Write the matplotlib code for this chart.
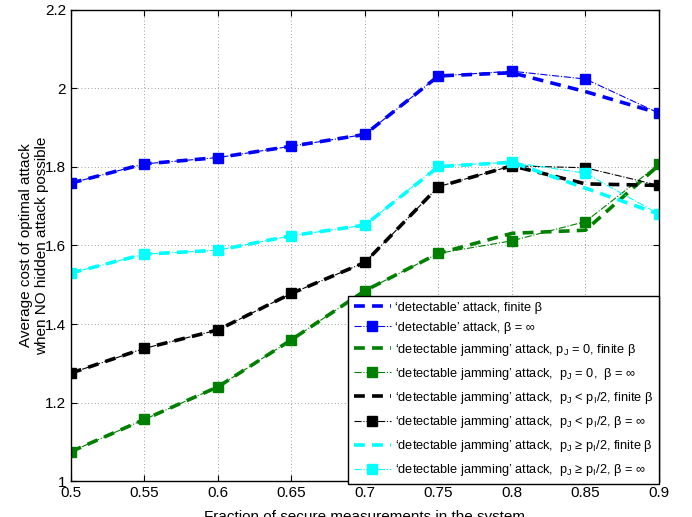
import matplotlib
matplotlib.use("Agg")
import matplotlib.pyplot as plt

plt.rcParams["font.family"] = ["Liberation Sans", "DejaVu Sans"]
plt.rcParams["mathtext.fontset"] = "custom"
plt.rcParams["mathtext.rm"] = "Liberation Sans"
plt.rcParams["mathtext.it"] = "Liberation Sans"

frac = [0.5, 0.55, 0.6, 0.65, 0.7, 0.75, 0.8, 0.85, 0.9]

det_finite = [1.759, 1.808, 1.824, 1.853, 1.883, 2.032, 2.040, 1.992, 1.937]
det_inf = [1.759, 1.808, 1.824, 1.853, 1.883, 2.032, 2.044, 2.024, 1.937]
jam0_finite = [1.075, 1.157, 1.240, 1.360, 1.485, 1.580, 1.631, 1.639, 1.805]
jam0_inf = [1.075, 1.157, 1.240, 1.360, 1.485, 1.580, 1.612, 1.661, 1.807]
jamlt_finite = [1.275, 1.338, 1.385, 1.478, 1.557, 1.750, 1.803, 1.757, 1.753]
jamlt_inf = [1.275, 1.338, 1.385, 1.478, 1.557, 1.750, 1.803, 1.798, 1.753]
jamge_finite = [1.530, 1.578, 1.588, 1.625, 1.652, 1.801, 1.812, 1.746, 1.680]
jamge_inf = [1.530, 1.578, 1.588, 1.625, 1.652, 1.803, 1.812, 1.784, 1.680]

labels = [
    "\u2018detectable\u2019 attack, finite \u03b2",
    "\u2018detectable\u2019 attack, \u03b2 = \u221e",
    "\u2018detectable jamming\u2019 attack, $\\mathrm{p_J}$ = 0, finite \u03b2",
    "\u2018detectable jamming\u2019 attack,  $\\mathrm{p_J}$ = 0,  \u03b2 = \u221e",
    "\u2018detectable jamming\u2019 attack,  $\\mathrm{p_J}$ < $\\mathrm{p_I}$/2, finite \u03b2",
    "\u2018detectable jamming\u2019 attack,  $\\mathrm{p_J}$ < $\\mathrm{p_I}$/2, \u03b2 = \u221e",
    "\u2018detectable jamming\u2019 attack,  $\\mathrm{p_J}$ \u2265 $\\mathrm{p_I}$/2, finite \u03b2",
    "\u2018detectable jamming\u2019 attack,  $\\mathrm{p_J}$ \u2265 $\\mathrm{p_I}$/2, \u03b2 = \u221e",
]

series = [
    (det_finite, det_inf, "blue"),
    (jam0_finite, jam0_inf, "green"),
    (jamlt_finite, jamlt_inf, "black"),
    (jamge_finite, jamge_inf, "cyan"),
]

fig = plt.figure(figsize=(6.92, 5.17), dpi=100)
ax = fig.add_axes([0.1026, 0.0696, 0.8497, 0.9111])

for i, (fin, inf, c) in enumerate(series):
    ax.plot(frac, fin, color=c, lw=2.6, linestyle=(0, (3, 2)), label=labels[2 * i])
    ax.plot(frac, inf, color=c, lw=0.8, linestyle="-.", marker="s",
            markersize=6.5, label=labels[2 * i + 1])

ax.set_xlim(0.5, 0.9)
ax.set_ylim(1, 2.2)
ax.set_xticks(frac)
ax.set_xticklabels(["0.5", "0.55", "0.6", "0.65", "0.7", "0.75", "0.8", "0.85", "0.9"])
ax.set_yticks([1, 1.2, 1.4, 1.6, 1.8, 2, 2.2])
ax.set_yticklabels(["1", "1.2", "1.4", "1.6", "1.8", "2", "2.2"])
ax.tick_params(direction="in", top=True, right=True, labelsize=11, length=4)
ax.grid(True, linestyle=(0, (1, 3)), color="gray", lw=0.6)
for s in ax.spines.values():
    s.set_linewidth(1.0)

ax.set_xlabel("Fraction of secure measurements in the system", fontsize=11, labelpad=7)
ax.set_ylabel("Average cost of optimal attack\nwhen NO hidden attack possible",
              fontsize=11, labelpad=-3)

leg = ax.legend(loc="lower right", bbox_to_anchor=(1.0, -0.006), fontsize=9.2,
                handlelength=2.9, labelspacing=0.63, borderpad=0.45,
                handletextpad=0.35, borderaxespad=0.0, fancybox=False,
                framealpha=1, edgecolor="black")
leg.get_frame().set_linewidth(1.0)

fig.savefig("out.png", dpi=100)
